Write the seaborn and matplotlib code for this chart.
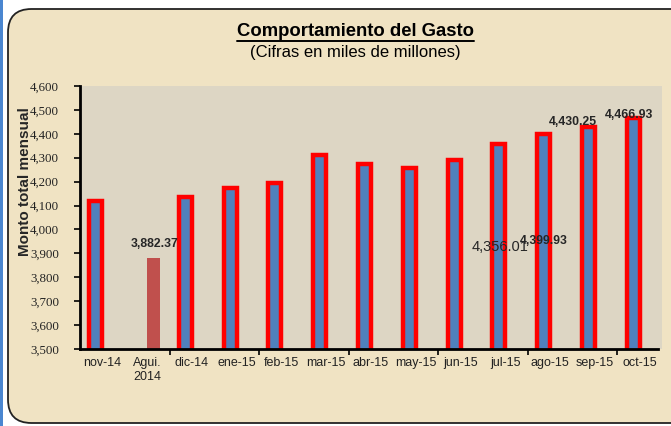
import matplotlib
matplotlib.use("Agg")
import matplotlib.pyplot as plt
import seaborn as sns
import pandas as pd
import numpy as np
from matplotlib.patches import FancyBboxPatch, Rectangle

# ---- data ----
categories = ["nov-14", "Agui.\n2014", "dic-14", "ene-15", "feb-15", "mar-15", "abr-15",
              "may-15", "jun-15", "jul-15", "ago-15", "sep-15", "oct-15"]
monthly = [4118, None, 4135, 4172, 4195, 4312, 4275, 4258, 4292, 4356.01, 4399.93, 4430.25, 4466.93]
aguinaldo = [None, 3882.37, None, None, None, None, None, None, None, None, None, None, None]
series_names = ["Mensual", "Aguinaldo"]
y_ticks = [3500, 3600, 3700, 3800, 3900, 4000, 4100, 4200, 4300, 4400, 4500, 4600]

rows = []
for c, m, a in zip(categories, monthly, aguinaldo):
    rows.append({"cat": c, "serie": series_names[0], "valor": m if m is not None else np.nan})
    rows.append({"cat": c, "serie": series_names[1], "valor": a if a is not None else np.nan})
df = pd.DataFrame(rows)

sns.set_theme(style="white")
plt.rcParams["font.family"] = ["Liberation Sans", "DejaVu Sans"]

W, H = 671, 426
fig = plt.figure(figsize=(W / 100, H / 100), dpi=100)
fig.patch.set_facecolor("white")

# outer rounded panel
panel = FancyBboxPatch((8 / W, 3 / H), (W + 30) / W, (H - 12) / H,
                       boxstyle="round,pad=0,rounding_size=0.035",
                       transform=fig.transFigure, facecolor="#F0E3C3",
                       edgecolor="#222222", linewidth=1.3, mutation_aspect=W / H, zorder=-5)
fig.patches.append(panel)
fig.patches.append(Rectangle((0, 0), 3 / W, 1, transform=fig.transFigure,
                             facecolor="#4A86D0", edgecolor="none", zorder=-4))

ax = fig.add_axes([80 / W, 1 - 349 / H, (662 - 80) / W, (349 - 86) / H])
ax.set_zorder(2)
ax.set_facecolor("#DDD6C4")

sns.barplot(data=df, x="cat", y="valor", hue="serie", order=categories,
            hue_order=series_names, palette={"Mensual": "#4F81BD", "Aguinaldo": "#C0504D"},
            saturation=1, width=0.58, dodge=True, ax=ax, legend=False, errorbar=None)

for p in ax.containers[0]:
    p.set_edgecolor("#FF0000")
    p.set_linewidth(3.2)
for p in ax.containers[1]:
    p.set_edgecolor("none")

ax.set_ylim(3500, 4600)
ax.set_xlim(-0.5, 12.5)
ax.set_yticks(y_ticks)
ax.set_yticklabels([f"{v:,}" for v in y_ticks], fontfamily="Liberation Serif")
ax.tick_params(axis="y", labelsize=9.3, length=4, width=1.2, color="black", left=True,
               direction="out", pad=11, labelcolor="#222222")
ax.tick_params(axis="x", which="major", labelsize=9, length=0, pad=6, labelcolor="#222222")
ax.set_xticks(np.arange(1.5, 12, 2), minor=True)
ax.tick_params(axis="x", which="minor", length=4, width=1.2, color="black", bottom=True,
               direction="out")

for s in ["top", "right"]:
    ax.spines[s].set_visible(False)
for s in ["left", "bottom"]:
    ax.spines[s].set_color("black")
    ax.spines[s].set_linewidth(2)
ax.spines["bottom"].set_bounds(-0.5, 12.4)

ax.set_xlabel("")
ax.set_ylabel("Monto total mensual", fontsize=11, fontweight="bold", labelpad=2)
ax.yaxis.set_label_coords(-0.082, 0.635)

# data labels (positions as in the reference)
ax.text(1.16, 3938, "3,882.37", ha="center", va="center", fontsize=8.8, fontweight="bold")
ax.text(8.88, 3926, "4,356.01", ha="center", va="center", fontsize=10.5)
ax.text(9.87, 3951, "4,399.93", ha="center", va="center", fontsize=8.8, fontweight="bold")
ax.text(10.5, 4448, "4,430.25", ha="center", va="center", fontsize=8.8, fontweight="bold")
ax.text(11.76, 4478, "4,466.93", ha="center", va="center", fontsize=8.8, fontweight="bold")

# titles
fig.text(355 / W, 1 - 32 / H, "Comportamiento del Gasto", ha="center", va="center",
         fontsize=13.3, fontweight="bold", color="black")
fig.add_artist(plt.Line2D([237 / W, 474 / W], [1 - 41 / H, 1 - 41 / H],
                          transform=fig.transFigure, color="black", linewidth=1.4))
fig.text(355 / W, 1 - 52 / H, "(Cifras en miles de millones)", ha="center", va="center",
         fontsize=12, color="black")

fig.savefig("out.png", dpi=100, facecolor=fig.get_facecolor())
